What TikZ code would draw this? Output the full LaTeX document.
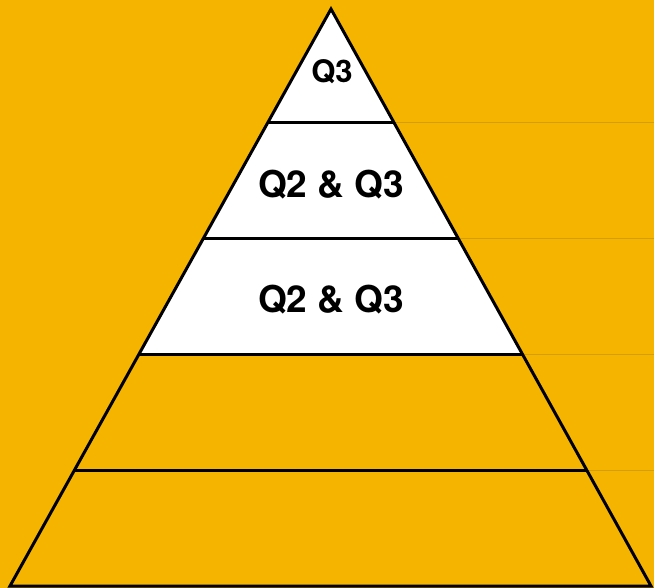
\documentclass[tikz,border=0pt]{standalone}
\usepackage{fontspec}
\setmainfont{TeX Gyre Heros}
\usetikzlibrary{calc}
\definecolor{pyrGold}{HTML}{F4B400}
\definecolor{pyrRule}{HTML}{D39E0A}

\begin{document}
\begin{tikzpicture}[x=1pt, y=-1pt, font=\bfseries,
    edge/.style={line width=3pt, line join=miter},
    tierlabel/.style={font=\bfseries\fontsize{37}{37}\selectfont}]
  \fill[pyrGold] (0,0) rectangle (654,588);
  \useasboundingbox (0,0) rectangle (654,588);
  \coordinate (apex) at (331,9);
  \coordinate (bl) at (10,586);
  \coordinate (br) at (651,586);
  \coordinate (rim) at (654,0);
  \foreach \k/\t in {1/0.196, 2/0.397, 3/0.598, 4/0.799} {
    \coordinate (l\k) at ($(apex)!\t!(bl)$);
    \coordinate (r\k) at ($(apex)!\t!(br)$);
  }
  % faint rules running off to the right
  \foreach \k in {1,...,4} \draw[pyrRule, line width=1pt] (r\k) -- (r\k -| rim);
  % top three tiers are white
  \fill[white] (apex) -- (l3) -- (r3) -- cycle;
  \foreach \k in {1,...,4} \draw[edge] (l\k) -- (r\k);
  \draw[edge] (apex) -- (bl) -- (br) -- cycle;
  % labels
  \node[font=\bfseries\fontsize{31}{31}\selectfont] (q3) at (332,72) {Q3};
  \node[tierlabel] (q23a) at (331,185) {Q2 \& Q3};
  \node[tierlabel] (q23b) at (331,300) {Q2 \& Q3};
\end{tikzpicture}
\end{document}
